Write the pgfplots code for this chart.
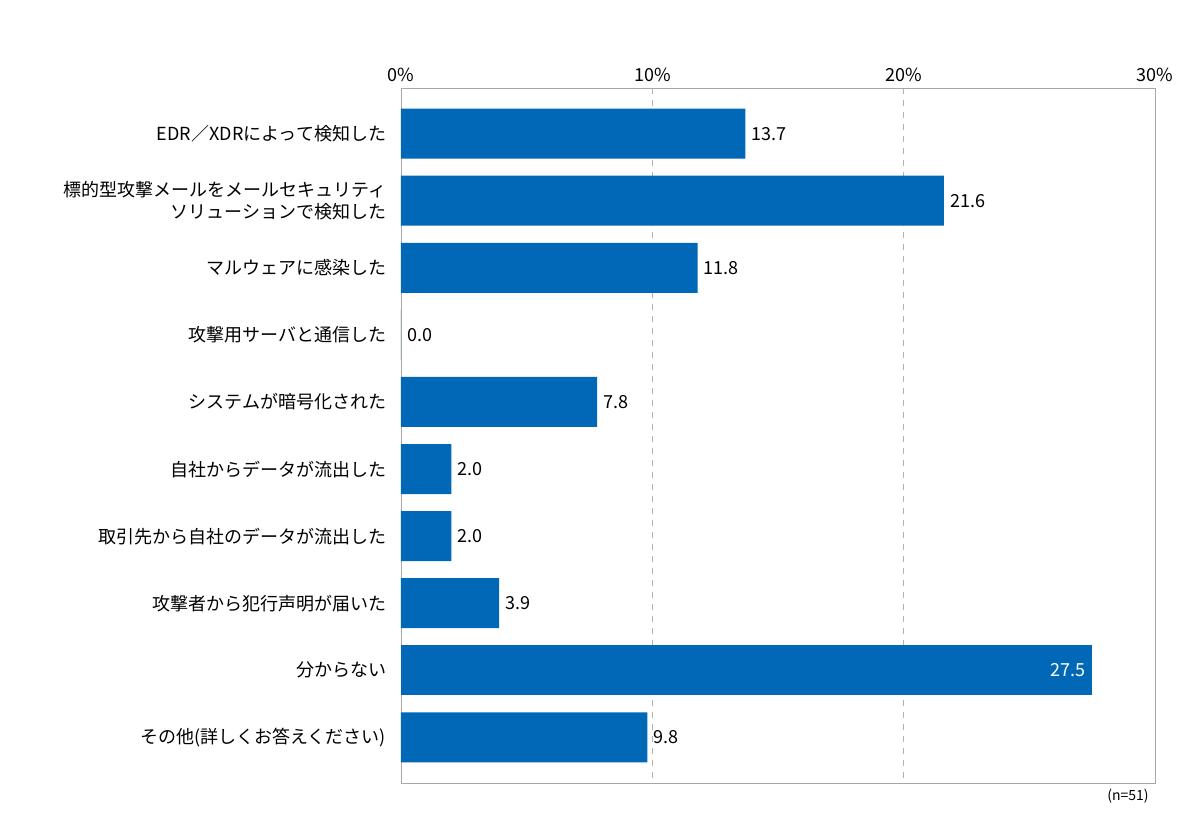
\documentclass[border=0pt]{standalone}
\usepackage{pgfplots}
\pgfplotsset{compat=1.18}
\usepackage{fontspec}
\setmainfont{Noto Sans CJK JP}
\definecolor{bar}{RGB}{0,104,183}
\begin{document}
\fontsize{9}{11}\selectfont
\begin{tikzpicture}
\path[use as bounding box] (0,0) rectangle (600pt,413.5pt);
\begin{axis}[at={(200.5pt,22pt)},anchor=south west,scale only axis,
 width=377pt,height=347.5pt,
 xbar,bar width=25pt,bar shift=0pt,
 xmin=0,xmax=30,ymin=-0.68,ymax=9.68,y dir=reverse,
 axis x line*=top, axis line style={gray!70},
 xtick={0,10,20,30},xticklabels={0\%,10\%,20\%,30\%},
 xtick style={draw=none},ytick style={draw=none},
 /pgf/number format/assume math mode=true,
 xmajorgrids,major grid style={gray!60,dashed,thin},
 ytick={0,...,9},
 yticklabels={EDR／XDRによって検知した,{標的型攻撃メールをメールセキュリティ\\ソリューションで検知した},マルウェアに感染した,攻撃用サーバと通信した,システムが暗号化された,自社からデータが流出した,取引先から自社のデータが流出した,攻撃者から犯行声明が届いた,分からない,その他(詳しくお答えください)},
 yticklabel style={align=right},
 clip=false,
]
\draw[gray!70] (axis cs:0,-0.68) rectangle (axis cs:30,9.68);
\addplot[fill=bar,draw=none,nodes near coords,point meta=explicit symbolic,
 nodes near coords style={anchor=west,black,font=\fontsize{9}{11}\selectfont}]
 coordinates {(13.7,0)[13.7] (21.6,1)[21.6] (11.8,2)[11.8] (0,3)[0.0] (7.8,4)[7.8] (2.0,5)[2.0] (2.0,6)[2.0] (3.9,7)[3.9] (9.8,9)[9.8]};
\addplot[fill=bar,draw=none,nodes near coords,point meta=explicit symbolic,
 nodes near coords style={anchor=east,white,font=\fontsize{9}{11}\selectfont}]
 coordinates {(27.5,8)[27.5]};
\node[anchor=north east,font=\fontsize{7}{8}\selectfont] at (axis cs:30,9.68) {(n=51)};
\end{axis}
\end{tikzpicture}
\end{document}
